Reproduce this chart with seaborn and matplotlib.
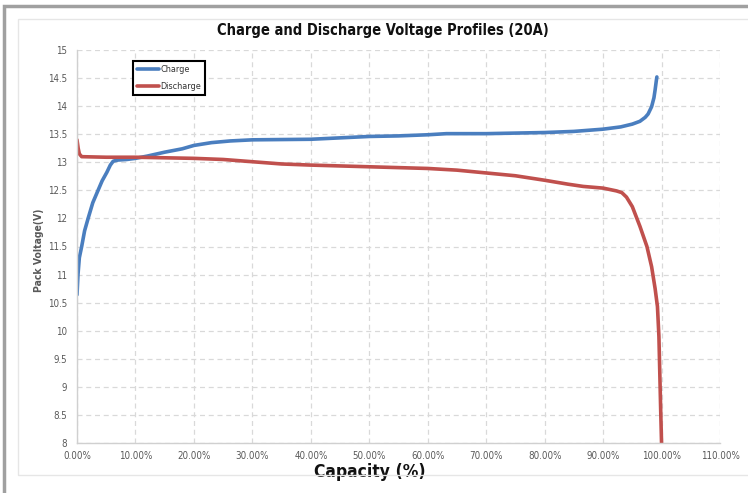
import numpy as np
import pandas as pd
import matplotlib
matplotlib.use("Agg")
import matplotlib.pyplot as plt
import seaborn as sns
from matplotlib import font_manager as fm
from matplotlib.patches import Rectangle
from matplotlib.ticker import FuncFormatter, MultipleLocator

charge_cap = [0, 0.17, 0.4, 0.8, 1.3, 1.9, 2.7, 3.6, 4.3, 5.1, 5.7, 6.2, 7, 8.5, 10, 12, 15, 18, 20, 23, 26.2, 30,
              40, 50, 55, 60, 63.2, 70, 80, 85, 90, 93, 95, 96.3, 97.2, 97.7, 98.3, 98.7, 98.9, 99.1, 99.2]
charge_v = [10.64, 11.0, 11.3, 11.5, 11.78, 12.0, 12.28, 12.5, 12.67, 12.82, 12.95, 13.02, 13.04, 13.05, 13.07, 13.11,
            13.18, 13.24, 13.3, 13.35, 13.38, 13.40, 13.41, 13.46, 13.47, 13.49, 13.51, 13.51, 13.53, 13.55, 13.59,
            13.63, 13.68, 13.73, 13.8, 13.86, 13.99, 14.15, 14.29, 14.45, 14.52]

dis_cap = [0, 0.2, 0.4, 0.8, 5, 10, 15, 20, 25, 30, 35, 40, 50, 60, 65, 70, 75, 80, 84, 86.6, 90, 92.3, 93.2, 94,
           95, 96.3, 97.5, 98.3, 98.9, 99.3, 99.55, 99.7, 99.85, 100]
dis_v = [13.4, 13.25, 13.15, 13.1, 13.09, 13.09, 13.08, 13.07, 13.05, 13.01, 12.97, 12.95, 12.92, 12.89, 12.86, 12.81,
         12.76, 12.68, 12.61, 12.57, 12.54, 12.49, 12.46, 12.38, 12.21, 11.86, 11.5, 11.14, 10.75, 10.43, 9.9, 9.25,
         8.6, 8.0]

series_names = ["Charge", "Discharge"]
colors = ["#4a7ebf", "#c0504d"]

df = pd.concat([
    pd.DataFrame({"cap": charge_cap, "v": charge_v, "series": "Charge"}),
    pd.DataFrame({"cap": dis_cap, "v": dis_v, "series": "Discharge"}),
], ignore_index=True)

sns.set_style("white")


def pick_font(bold=False):
    cands = []
    for f in fm.fontManager.ttflist:
        n = f.name
        w = f.weight if isinstance(f.weight, int) else (700 if "bold" in str(f.weight).lower() else 400)
        if ("Narrow" in n) or (n.startswith("DejaVu Sans") and "condensed" in str(f.stretch).lower()) \
                or ("Condensed" in n and "Sans" in n):
            if "Mono" in n or "Oblique" in f.fname or "Italic" in f.fname:
                continue
            if (w >= 600) == bold:
                cands.append(f.fname)
    if cands:
        cands.sort(key=lambda p: ("Liberation" not in p, p))
        return fm.FontProperties(fname=cands[0])
    return fm.FontProperties(family="DejaVu Sans", weight="bold" if bold else "normal")


def sized(fp, size):
    c = fp.copy()
    c.set_size(size)
    return c


fp_reg = pick_font(False)
fp_bold = pick_font(True)

fig = plt.figure(figsize=(7.48, 4.93), dpi=100)
ax = fig.add_axes([77 / 748, 1 - 443 / 493, 643 / 748, 393 / 493])

sns.lineplot(data=df, x="cap", y="v", hue="series", hue_order=series_names,
             palette=dict(zip(series_names, colors)), sort=False, estimator=None,
             linewidth=2.6, ax=ax)

ax.set_xlim(0, 110)
ax.set_ylim(8, 15)
ax.xaxis.set_major_locator(MultipleLocator(10))
ax.yaxis.set_major_locator(MultipleLocator(0.5))
ax.xaxis.set_major_formatter(FuncFormatter(lambda v, p: f"{v:.2f}%"))
ax.yaxis.set_major_formatter(FuncFormatter(lambda v, p: f"{v:g}"))
ax.grid(True, color="#d9d9d9", linestyle=(0, (4, 3)), linewidth=0.9)
for s in ["top", "right"]:
    ax.spines[s].set_visible(False)
for s in ["left", "bottom"]:
    ax.spines[s].set_color("#d0d0d0")
    ax.spines[s].set_linewidth(1)
ax.tick_params(axis="both", colors="#595959", length=0)
ax.tick_params(axis="y", pad=7)
ax.tick_params(axis="x", pad=6)
for lab in ax.get_xticklabels() + ax.get_yticklabels():
    lab.set_fontproperties(sized(fp_reg, 7))

ax.set_title("Charge and Discharge Voltage Profiles (20A)", fontproperties=sized(fp_bold, 10.5),
             pad=11, color="#111111", x=0.476)
ax.set_xlabel("Capacity (%)", fontproperties=sized(fp_bold, 12.5), color="#111111")
ax.xaxis.set_label_coords(0.456, -0.05)
ax.set_ylabel("Pack Voltage(V)", fontproperties=sized(fp_bold, 7.5), color="#595959")
ax.yaxis.set_label_coords(-0.052, 0.49)

leg = ax.legend(loc="upper left", bbox_to_anchor=((133 - 77) / 643, (443 - 61) / 393),
                prop=sized(fp_reg, 6.5), frameon=True, fancybox=False, handlelength=2.4,
                handletextpad=0.15, borderpad=0.45, labelspacing=0.9, borderaxespad=0)
for t in leg.get_texts():
    t.set_color("#333333")
for h in leg.get_lines():
    h.set_linewidth(2.6)
leg.get_frame().set_edgecolor("black")
leg.get_frame().set_linewidth(1.5)
leg.get_frame().set_alpha(1)

fig.patches.append(Rectangle((4 / 748, -0.1), 1.2, 1.1 - 6 / 493, transform=fig.transFigure, fill=False,
                             edgecolor="#a0a0a0", linewidth=2.5))
fig.patches.append(Rectangle((18 / 748, 18 / 493), 1.2, 1 - 37 / 493, transform=fig.transFigure, fill=False,
                             edgecolor="#e6e6e6", linewidth=1))

fig.savefig("out.png", dpi=100)
